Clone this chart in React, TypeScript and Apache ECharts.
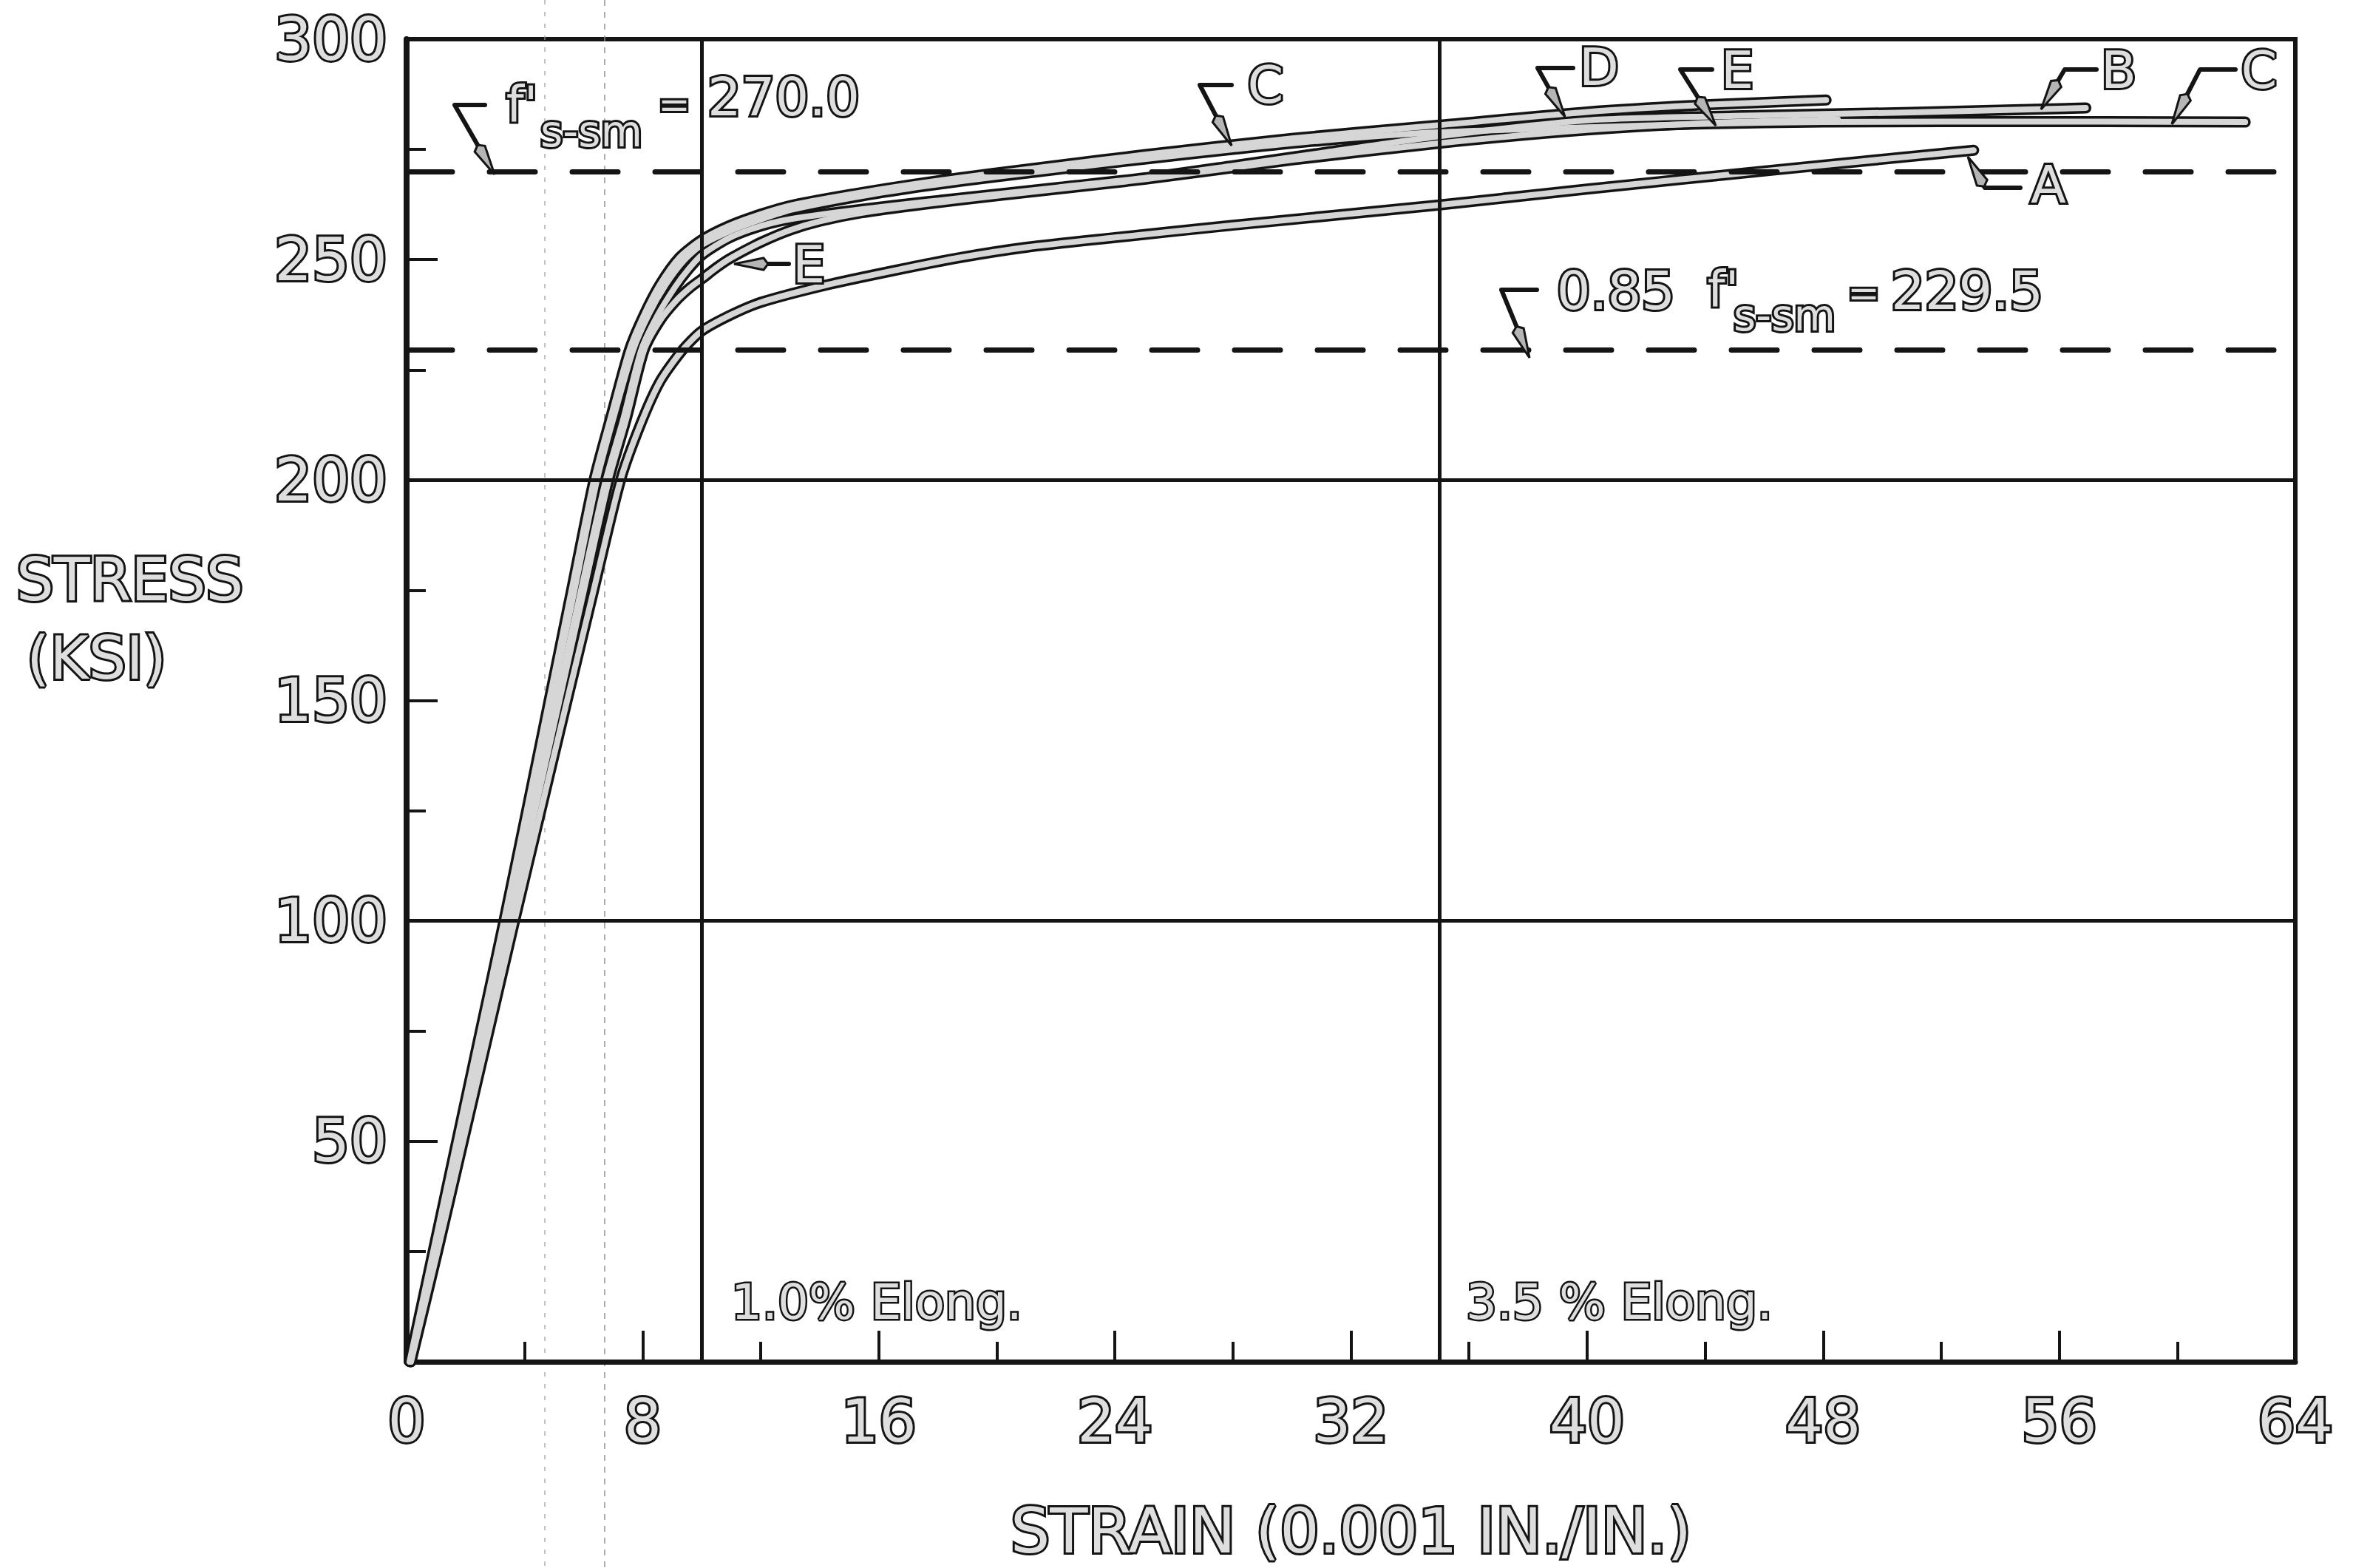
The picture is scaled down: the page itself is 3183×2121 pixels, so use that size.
import React, { useEffect, useRef } from "react";
import * as echarts from "echarts";

// ---- data (strain in 0.001 in./in., stress in ksi) ----
const xTickValues = [0, 8, 16, 24, 32, 40, 48, 56, 64];
const yTickValues = [50, 100, 150, 200, 250, 300];

const curveA: [number, number][] = [
  [0.15, 0], [1.05, 25], [1.92, 50], [2.79, 75], [3.66, 100], [4.55, 125], [5.44, 150], [6.34, 175],
  [7.25, 200], [7.95, 213], [8.6, 222.5], [9.35, 229.5], [10, 233.8], [11, 237.5], [12, 240.3],
  [14.2, 244.2], [16.5, 247.5], [18.7, 250.4], [21, 252.8], [24, 255], [28, 257.8], [35, 262.4],
  [40, 266], [46.3, 270.3], [53.1, 274.8],
];
const curveB: [number, number][] = [
  [0.13, 0], [0.96, 25], [1.79, 50], [2.62, 75], [3.45, 100], [4.27, 125], [5.09, 150], [5.91, 175],
  [6.75, 200], [7.35, 214], [7.95, 229.5], [8.5, 237.3], [9.1, 243.8], [9.55, 247.8], [10, 251],
  [10.9, 254.8], [12, 257.6], [13.1, 259.3], [15.4, 261.4], [17.6, 263.1], [19.8, 264.7],
  [22.1, 266.4], [25.1, 268.6], [28, 271.3], [31, 274.2], [35, 278], [40, 281.6], [45, 282.6],
  [51, 283.4], [56.9, 284.4],
];
const curveC: [number, number][] = [
  [0.12, 0], [0.93, 25], [1.74, 50], [2.55, 75], [3.35, 100], [4.13, 125], [4.91, 150], [5.69, 175],
  [6.45, 200], [7.05, 215], [7.68, 229.5], [8.2, 237.5], [8.78, 244.3], [9.4, 249.8], [10, 253.3],
  [11, 256.6], [12, 259.1], [13.1, 261.4], [15.4, 264.4], [17.6, 266.7], [20, 268.8], [25, 272.8],
  [28, 275], [31, 277], [35, 278.9], [40, 280], [44, 280.8], [48, 281.2], [52, 281.3], [57.6, 281.3],
  [62.3, 281.2],
];
const curveD: [number, number][] = [
  [0.1, 0], [0.9, 25], [1.7, 50], [2.5, 75], [3.3, 100], [4.07, 125], [4.83, 150], [5.59, 175],
  [6.35, 200], [6.95, 215], [7.55, 229.5], [8.05, 237.5], [8.6, 244.5], [9.25, 250.5], [10, 254.5],
  [10.9, 257.6], [12, 260.3], [13.1, 262.4], [15.4, 265.2], [17.6, 267.5], [19.8, 269.5],
  [22.1, 271.4], [25, 273.8], [30, 277.5], [35, 280.5], [40, 283.5], [44, 285.1], [48.1, 286.2],
];
const curveE: [number, number][] = [
  [0.14, 0], [0.99, 25], [1.84, 50], [2.68, 75], [3.52, 100], [4.35, 125], [5.18, 150], [6.01, 175],
  [6.85, 200], [7.45, 214], [8.05, 229.5], [8.6, 236.3], [9.15, 240.8], [9.6, 243.6], [10, 245.6],
  [10.5, 248.2], [11, 250.4], [12, 253.9], [13, 256.7], [14, 258.7], [15.4, 260.6], [17.6, 262.6],
  [20, 264.5], [25, 268.2], [30, 272.6], [35, 276.4], [40, 279.4], [44.2, 281], [48.5, 281.8],
];

const curves = [
  { name: "A", data: curveA },
  { name: "B", data: curveB },
  { name: "C", data: curveC },
  { name: "D", data: curveD },
  { name: "E", data: curveE },
];

const strengthLevels = [270.0, 229.5];
const elongationLines = [10, 35];
const solidStressLines = [100, 200];

const FONT = "DejaVu Sans";
const INK = "#141414";
const HOLLOW = "#dedede";

function txt(text: string, x: number, y: number, size: number, align = "center", extra: any = {}) {
  return {
    type: "text",
    x,
    y,
    z: 100,
    style: {
      text,
      fontSize: size,
      fontFamily: FONT,
      fill: HOLLOW,
      stroke: INK,
      lineWidth: 6,
      align,
      textAlign: align,
      verticalAlign: "middle",
      textVerticalAlign: "middle",
      ...extra,
    },
  };
}

function leader(points: number[][]) {
  const els: any[] = [];
  const n = points.length;
  const tip = points[n - 1];
  const from = points[n - 2];
  const dx = tip[0] - from[0];
  const dy = tip[1] - from[1];
  const d = Math.hypot(dx, dy);
  const ux = dx / d, uy = dy / d;
  const len = 40, hw = 8;
  const bx = tip[0] - ux * len, by = tip[1] - uy * len;
  const px = -uy, py = ux;
  els.push({
    type: "polyline",
    z: 99,
    shape: { points: points.slice(0, n - 1).concat([[bx, by]]) },
    style: { stroke: INK, lineWidth: 6, fill: null, lineCap: "round", lineJoin: "round" },
  });
  els.push({
    type: "polygon",
    z: 99,
    shape: {
      points: [
        tip,
        [bx + px * hw, by + py * hw],
        [bx - ux * 6, by - uy * 6],
        [bx - px * hw, by - py * hw],
      ],
    },
    style: { fill: "#b5b5b5", stroke: INK, lineWidth: 3 },
  });
  return els;
}

export default function App() {
  const ref = useRef<HTMLDivElement>(null);

  useEffect(() => {
    document.body.style.margin = "0";
    const chart = echarts.init(ref.current!, null, { renderer: "svg" });

    const series: any[] = [];
    series.push({
      type: "line",
      data: [],
      silent: true,
      z: 1,
      markLine: {
        silent: true,
        symbol: ["none", "none"],
        label: { show: false },
        lineStyle: { color: INK, width: 5, type: "solid" },
        data: [
          ...elongationLines.map((v) => ({ xAxis: v })),
          ...solidStressLines.map((v) => ({ yAxis: v })),
        ],
      },
    });
    series.push({
      type: "line",
      data: [],
      silent: true,
      z: 1,
      markLine: {
        silent: true,
        symbol: ["none", "none"],
        label: { show: false },
        lineStyle: { color: INK, width: 7, type: [62, 50], cap: "round" },
        data: strengthLevels.map((v) => ({ yAxis: v })),
      },
    });
    curves.forEach((c) => {
      series.push({
        name: c.name + "-outline",
        type: "line",
        data: c.data,
        showSymbol: false,
        symbol: "none",
        smooth: 0.25,
        silent: true,
        z: 3,
        lineStyle: { color: INK, width: 15, cap: "round", join: "round" },
      });
    });
    curves.forEach((c) => {
      series.push({
        name: c.name,
        type: "line",
        data: c.data,
        showSymbol: false,
        symbol: "none",
        smooth: 0.25,
        silent: true,
        z: 4,
        lineStyle: { color: "#d6d6d6", width: 8, cap: "round", join: "round" },
      });
    });

    const labelStyle = {
      fontFamily: FONT,
      color: HOLLOW,
      textBorderColor: INK,
      textBorderWidth: 6,
    };

    const graphic: any[] = [
      // scan artefacts: faint dotted vertical streaks
      { type: "line", z: 0, shape: { x1: 737, y1: 0, x2: 737, y2: 2121 }, style: { stroke: "#9a9a9a", lineWidth: 2, lineDash: [6, 10], opacity: 0.6 } },
      { type: "line", z: 0, shape: { x1: 818, y1: 0, x2: 818, y2: 2121 }, style: { stroke: "#8a8a8a", lineWidth: 2, lineDash: [8, 8], opacity: 0.7 } },
      // y-axis title
      txt("STRESS", 22, 784, 80, "left"),
      txt("(KSI)", 36, 890, 80, "left"),
      // f' = 270.0
      txt("f'", 706, 141, 68),
      txt("s-sm", 800, 178, 58),
      txt("=", 912, 141, 52),
      txt("270.0", 1060, 131, 72),
      ...leader([[656, 142], [615, 142], [669, 236]]),
      // 0.85 f' = 229.5
      txt("0.85", 2186, 393, 72),
      txt("f'", 2331, 391, 68),
      txt("s-sm", 2414, 427, 58),
      txt("=", 2521, 396, 52),
      txt("229.5", 2661, 393, 72),
      ...leader([[2079, 392], [2031, 392], [2069, 484]]),
      // curve labels
      txt("C", 1712, 115, 70),
      ...leader([[1666, 115], [1623, 115], [1666, 197]]),
      txt("D", 2163, 91, 70),
      ...leader([[2128, 92], [2080, 92], [2117, 158]]),
      txt("E", 2350, 95, 70),
      ...leader([[2316, 94], [2273, 94], [2321, 170]]),
      txt("B", 2866, 95, 70),
      ...leader([[2836, 94], [2793, 94], [2761, 148]]),
      txt("C", 3056, 95, 70),
      ...leader([[3024, 94], [2976, 94], [2938, 168]]),
      txt("A", 2771, 250, 70),
      ...leader([[2733, 254], [2685, 254], [2662, 212]]),
      txt("E", 1094, 358, 70),
      ...leader([[1067, 357], [993, 357]]),
      // elongation notes
      txt("1.0% Elong.", 989, 1761, 66, "left", { lineWidth: 5 }),
      txt("3.5 % Elong.", 1983, 1761, 66, "left", { lineWidth: 5 }),
    ];

    chart.setOption({
      animation: false,
      backgroundColor: "#ffffff",
      grid: {
        show: true,
        left: 550,
        right: 78,
        top: 53,
        bottom: 231,
        borderColor: INK,
        borderWidth: 6,
        backgroundColor: "transparent",
        containLabel: false,
      },
      xAxis: {
        type: "value",
        min: 0,
        max: 64,
        interval: 8,
        name: "STRAIN (0.001 IN./IN.)",
        nameLocation: "middle",
        nameGap: 187,
        nameTextStyle: { ...labelStyle, fontSize: 84 },
        axisLine: { show: true, onZero: false, lineStyle: { color: INK, width: 7 } },
        axisTick: { show: true, inside: true, length: 42, lineStyle: { color: INK, width: 4 } },
        minorTick: { show: true, splitNumber: 2, length: 27, lineStyle: { color: INK, width: 4 } },
        splitLine: { show: false },
        minorSplitLine: { show: false },
        axisLabel: {
          ...labelStyle,
          fontSize: 80,
          margin: 40,
          formatter: (v: number) => (xTickValues.includes(v) ? String(v) : ""),
        },
      },
      yAxis: {
        type: "value",
        min: 0,
        max: 300,
        interval: 50,
        axisLine: { show: true, onZero: false, lineStyle: { color: INK, width: 8 } },
        axisTick: { show: true, inside: true, length: 42, lineStyle: { color: INK, width: 4 } },
        minorTick: { show: true, splitNumber: 2, length: 26, lineStyle: { color: INK, width: 4 } },
        splitLine: { show: false },
        minorSplitLine: { show: false },
        axisLabel: {
          ...labelStyle,
          fontSize: 80,
          margin: 26,
          formatter: (v: number) => (yTickValues.includes(v) ? String(v) : ""),
        },
      },
      series,
      graphic,
    });

    return () => chart.dispose();
  }, []);

  return (
    <div
      ref={ref}
      style={{ position: "fixed", left: 0, top: 0, width: 3183, height: 2121, background: "#fff" }}
    />
  );
}
